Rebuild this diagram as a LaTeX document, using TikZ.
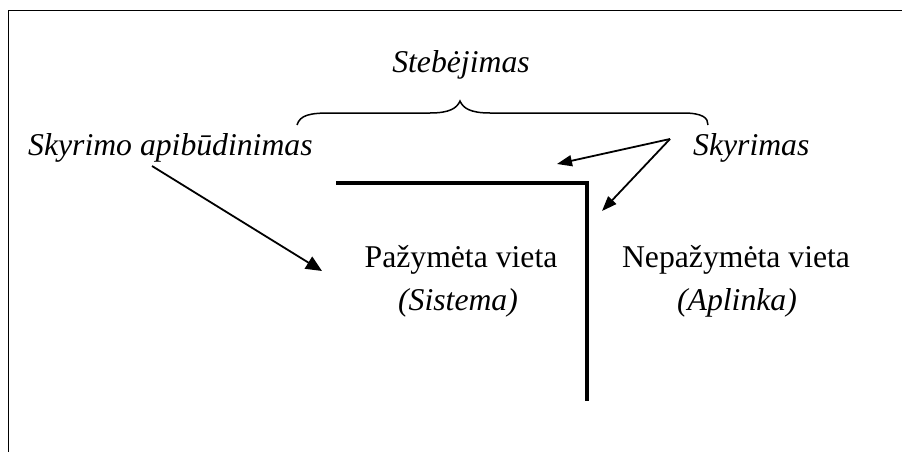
\documentclass[tikz,border=0pt]{standalone}
\usepackage{fontspec}
\setmainfont{Liberation Serif}[ItalicFont={Liberation Serif Italic}]
\usetikzlibrary{arrows.meta}
\begin{document}
\begin{tikzpicture}[x=1pt,y=-1pt,
  lbl/.style={inner sep=0pt,anchor=base,font=\fontsize{31.7}{38}\selectfont},
  ilbl/.style={lbl,font=\fontsize{31.7}{38}\selectfont\itshape},
  arr/.style={line width=1.8pt,-{Triangle[length=15pt,width=11pt]}},
  barrier/.style={line width=4pt,line join=miter},
  bracestyle/.style={line width=1.5pt}]
\useasboundingbox (0,0) rectangle (902,452);
\fill[white] (0,0) rectangle (902,452);
% frame
\draw[line width=1pt] (8.5,452) -- (8.5,11) -- (902,11);
% texts
\node[ilbl] (steb) at (461,73) {Stebėjimas};
\node[ilbl,anchor=base west] (skd) at (28,155) {Skyrimo apibūdinimas};
\node[ilbl,anchor=base west] (sky) at (693,155) {Skyrimas};
\node[lbl] (paz) at (461,267) {Pažymėta vieta};
\node[ilbl] (sis) at (458,310) {(Sistema)};
\node[lbl] (nep) at (736,267) {Nepažymėta vieta};
\node[ilbl] (apl) at (737,310) {(Aplinka)};
% brace
\draw[bracestyle] (297,125) .. controls (300,115) and (310,113) .. (330,113)
  -- (430,113) .. controls (450,113) and (457,108) .. (460,101)
  .. controls (463,108) and (470,113) .. (490,113)
  -- (683,113) .. controls (703,113) and (708,118) .. (708,125);
% barrier
\coordinate (bl) at (336,183);
\coordinate (bc) at (587,183);
\coordinate (bb) at (587,401);
\draw[barrier] (bl) -- (bc) -- (bb);
% arrows
\coordinate (skdstart) at (152,166);
\coordinate (skdtip) at (322,271);
\draw[arr,-{Triangle[length=16pt,width=14pt]}] (skdstart) -- (skdtip);
\coordinate (skyo) at (670,139);
\coordinate (t1) at (557,164);
\coordinate (t2) at (602,211);
\draw[arr] (skyo) -- (t1);
\draw[arr] (skyo) -- (t2);
\end{tikzpicture}
\end{document}
